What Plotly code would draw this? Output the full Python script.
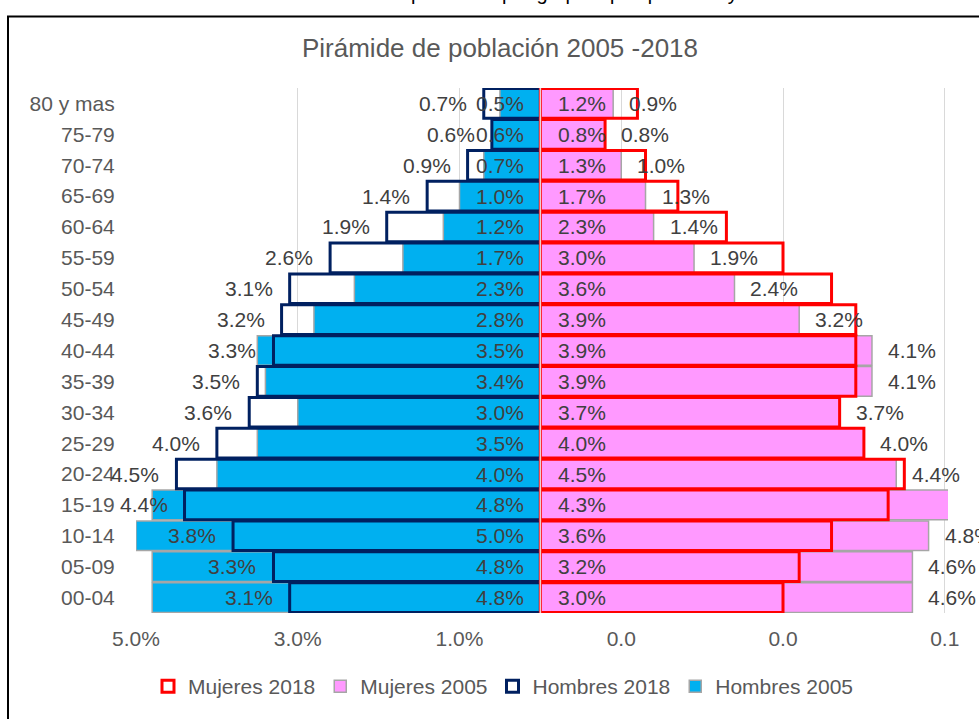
import plotly.graph_objects as go

# Age groups, bottom to top
grupos = ["00-04", "05-09", "10-14", "15-19", "20-24", "25-29", "30-34", "35-39",
          "40-44", "45-49", "50-54", "55-59", "60-64", "65-69", "70-74", "75-79", "80 y mas"]

# Share of total population (%)
hombres_2005 = [4.8, 4.8, 5.0, 4.8, 4.0, 3.5, 3.0, 3.4, 3.5, 2.8, 2.3, 1.7, 1.2, 1.0, 0.7, 0.6, 0.5]
hombres_2018 = [3.1, 3.3, 3.8, 4.4, 4.5, 4.0, 3.6, 3.5, 3.3, 3.2, 3.1, 2.6, 1.9, 1.4, 0.9, 0.6, 0.7]
mujeres_2005 = [4.6, 4.6, 4.8, 5.1, 4.4, 4.0, 3.7, 4.1, 4.1, 3.2, 2.4, 1.9, 1.4, 1.3, 1.0, 0.8, 0.9]
mujeres_2018 = [3.0, 3.2, 3.6, 4.3, 4.5, 4.0, 3.7, 3.9, 3.9, 3.9, 3.6, 3.0, 2.3, 1.7, 1.3, 0.8, 1.2]

# Value axis ticks (fractions) and their printed labels
tick_vals = [-0.05, -0.03, -0.01, 0.01, 0.03, 0.05]
tick_text = ["5.0%", "3.0%", "1.0%", "0.0", "0.0", "0.1"]
x_range = [-0.05, 0.0504]

W, H = 979, 719
L, R, T, B = 136, 31, 88, 103
PW, PH = W - L - R, H - T - B


def px_x(px):
    return (px - L) / PW


def px_y(py):
    return (H - B - py) / PH


FONT = "Liberation Sans, Arial, sans-serif"
LABEL_COLOR = "#404040"
AXIS_COLOR = "#595959"

fig = go.Figure()

fig.add_trace(go.Bar(
    name="Hombres 2005", y=grupos, x=[-v / 100 for v in hombres_2005], orientation="h",
    marker=dict(color="#00B0F0", line=dict(color="#A6A6A6", width=1.5)),
    hoverinfo="skip"))
fig.add_trace(go.Bar(
    name="Hombres 2018", y=grupos, x=[-v / 100 for v in hombres_2018], orientation="h",
    marker=dict(color="rgba(255,255,255,0)", line=dict(color="#002060", width=3)),
    hoverinfo="skip"))
fig.add_trace(go.Bar(
    name="Mujeres 2005", y=grupos, x=[v / 100 for v in mujeres_2005], orientation="h",
    marker=dict(color="#FF99FF", line=dict(color="#A6A6A6", width=1.5)),
    hoverinfo="skip"))
fig.add_trace(go.Bar(
    name="Mujeres 2018", y=grupos, x=[v / 100 for v in mujeres_2018], orientation="h",
    marker=dict(color="rgba(255,255,255,0)", line=dict(color="#FF0000", width=3)),
    hoverinfo="skip"))

# Data labels: 2005 men and 2018 women at the bar base, the others past the bar end
annotations = []
lab_font = dict(family=FONT, size=21, color=LABEL_COLOR)
for g, h05, h18, m05, m18 in zip(grupos, hombres_2005, hombres_2018, mujeres_2005, mujeres_2018):
    annotations.append(dict(x=0, y=g, text=f"{h05:.1f}%", xanchor="right", yanchor="middle",
                            xshift=-14, showarrow=False, font=lab_font))
    annotations.append(dict(x=0, y=g, text=f"{m18:.1f}%", xanchor="left", yanchor="middle",
                            xshift=16, showarrow=False, font=lab_font))
    annotations.append(dict(x=-h18 / 100, y=g, text=f"{h18:.1f}%", xanchor="right", yanchor="middle",
                            xshift=-15, showarrow=False, font=lab_font))
    if m05 / 100 <= x_range[1]:
        annotations.append(dict(x=m05 / 100, y=g, text=f"{m05:.1f}%", xanchor="left", yanchor="middle",
                                xshift=14, showarrow=False, font=lab_font))

# Caption above the chart frame
annotations.append(dict(
    xref="paper", yref="paper", x=px_x(535), y=px_y(6), xanchor="center", yanchor="bottom",
    text="Gráfica 4. Estructura de la población por grupos quinquenales y sexo 2005 - 2018",
    showarrow=False, font=dict(family=FONT, size=20, color="#000000")))

shapes = [
    # category axis line at zero
    dict(type="line", xref="x", yref="paper", x0=0, x1=0, y0=0, y1=1,
         line=dict(color="#EBCFCF", width=1.5), layer="above"),
    # chart frame
    dict(type="rect", xref="paper", yref="paper",
         x0=px_x(8), x1=px_x(995), y0=px_y(735), y1=px_y(16),
         line=dict(color="#000000", width=2), fillcolor="rgba(0,0,0,0)", layer="below"),
]

fig.update_layout(
    width=W, height=H, autosize=False,
    margin=dict(l=L, r=R, t=T, b=B, pad=0),
    paper_bgcolor="white", plot_bgcolor="white",
    barmode="overlay", bargap=0.04,
    font=dict(family=FONT, color=AXIS_COLOR),
    title=dict(text="Pirámide de población 2005 -2018", xref="container", x=500 / W,
               xanchor="center", y=1 - 48 / H, yanchor="middle",
               font=dict(family=FONT, size=26, color=AXIS_COLOR)),
    xaxis=dict(range=x_range, tickvals=tick_vals, ticktext=tick_text,
               showgrid=True, gridcolor="#D9D9D9", gridwidth=1, zeroline=False,
               showline=False, ticks="outside", ticklen=7, tickcolor="rgba(0,0,0,0)",
               tickfont=dict(family=FONT, size=21, color=AXIS_COLOR), fixedrange=True),
    yaxis=dict(type="category", categoryorder="array", categoryarray=grupos,
               range=[-0.5, len(grupos) - 0.5], showgrid=False, zeroline=False, showline=False,
               ticks="outside", ticklen=16, tickcolor="rgba(0,0,0,0)",
               tickfont=dict(family=FONT, size=21, color=AXIS_COLOR), fixedrange=True),
    legend=dict(orientation="h", traceorder="reversed", x=px_x(503), xanchor="center",
                y=px_y(690), yanchor="middle", font=dict(family=FONT, size=21, color=AXIS_COLOR),
                bgcolor="rgba(0,0,0,0)"),
    annotations=annotations,
    shapes=shapes,
    showlegend=True,
)

fig.write_html("out.html")
